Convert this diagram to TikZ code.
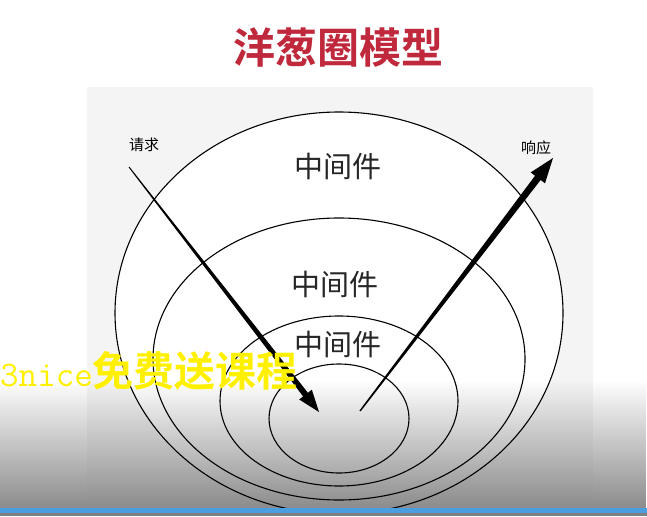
\documentclass[tikz,border=0pt]{standalone}
\usepackage{fontspec}
\newfontfamily\cjk[BoldFont={Noto Sans CJK SC Bold}]{Noto Sans CJK SC}
\usepackage{tikz}
\usetikzlibrary{calc,fadings}
\definecolor{titlered}{HTML}{C0283C}
\definecolor{slidegray}{HTML}{F4F4F4}
\definecolor{shadegray}{HTML}{8C8C8C}
\definecolor{barblue}{HTML}{4A9FE0}
\definecolor{markyellow}{HTML}{FFF000}

\begin{document}
\begin{tikzpicture}[x=1pt,y=-1pt,
  ring/.style={line width=1.1pt},
  layer/.style={font=\cjk\fontsize{29}{29}\selectfont, text=black!85, inner sep=0pt},
  tag/.style={font=\cjk\fontsize{15}{15}\selectfont, inner sep=0pt}]
\useasboundingbox (0,0) rectangle (647,516);
% slide background
\fill[white] (0,0) rectangle (647,516);
\fill[slidegray] (87,87) rectangle (593,508);
\fill[white] (339,313) ellipse [x radius=224, y radius=201];
% screen shading at the bottom
\fill[shadegray, path fading=north] (0,380) rectangle (647,508);
% onion rings
\draw[ring] (339,313) ellipse [x radius=224, y radius=201];
\draw[ring] (339,359) ellipse [x radius=186, y radius=141];
\draw[ring] (339,401) ellipse [x radius=119, y radius=85];
\draw[ring] (339,418.5) ellipse [x radius=70, y radius=54.5];
% request: in towards the core
\coordinate (rqs) at (129,167);
\coordinate (rqt) at (319,412);
\coordinate (rqb) at ($(rqt)!22pt!(rqs)$);
\fill ($(rqs)!0.5pt!90:(rqt)$) -- ($(rqb)!3pt!90:(rqt)$) -- ($(rqb)!8pt!90:(rqt)$)
  -- (rqt) -- ($(rqb)!8pt!-90:(rqt)$) -- ($(rqb)!3pt!-90:(rqt)$)
  -- ($(rqs)!0.5pt!-90:(rqt)$) -- cycle;
% response: back out of the core
\coordinate (rps) at (360,411);
\coordinate (rpt) at (553,158);
\coordinate (rpb) at ($(rpt)!25pt!(rps)$);
\fill ($(rps)!0.7pt!90:(rpt)$) -- ($(rpb)!3.5pt!90:(rpt)$) -- ($(rpb)!9pt!90:(rpt)$)
  -- (rpt) -- ($(rpb)!9pt!-90:(rpt)$) -- ($(rpb)!3.5pt!-90:(rpt)$)
  -- ($(rps)!0.7pt!-90:(rpt)$) -- cycle;
% labels
\node[font=\cjk\bfseries\fontsize{42}{42}\selectfont, text=titlered, inner sep=0pt] (title) at (338,47) {洋葱圈模型};
\node[tag] (req) at (144,145) {请求};
\node[tag] (resp) at (536,148) {响应};
\node[layer] (mw1) at (338,166) {中间件};
\node[layer] (mw2) at (335,284) {中间件};
\node[layer] (mw3) at (338,344) {中间件};
% watermark
\node[anchor=west, inner sep=0pt, text=markyellow] (mark) at (0,371)
  {{\ttfamily\fontsize{36}{36}\selectfont 3nice}{\cjk\bfseries\fontsize{41}{41}\selectfont 免费送课程}};
% task bar
\fill[barblue] (0,508) rectangle (647,513);
\fill[gray] (0,513) rectangle (647,516);
\end{tikzpicture}
\end{document}
